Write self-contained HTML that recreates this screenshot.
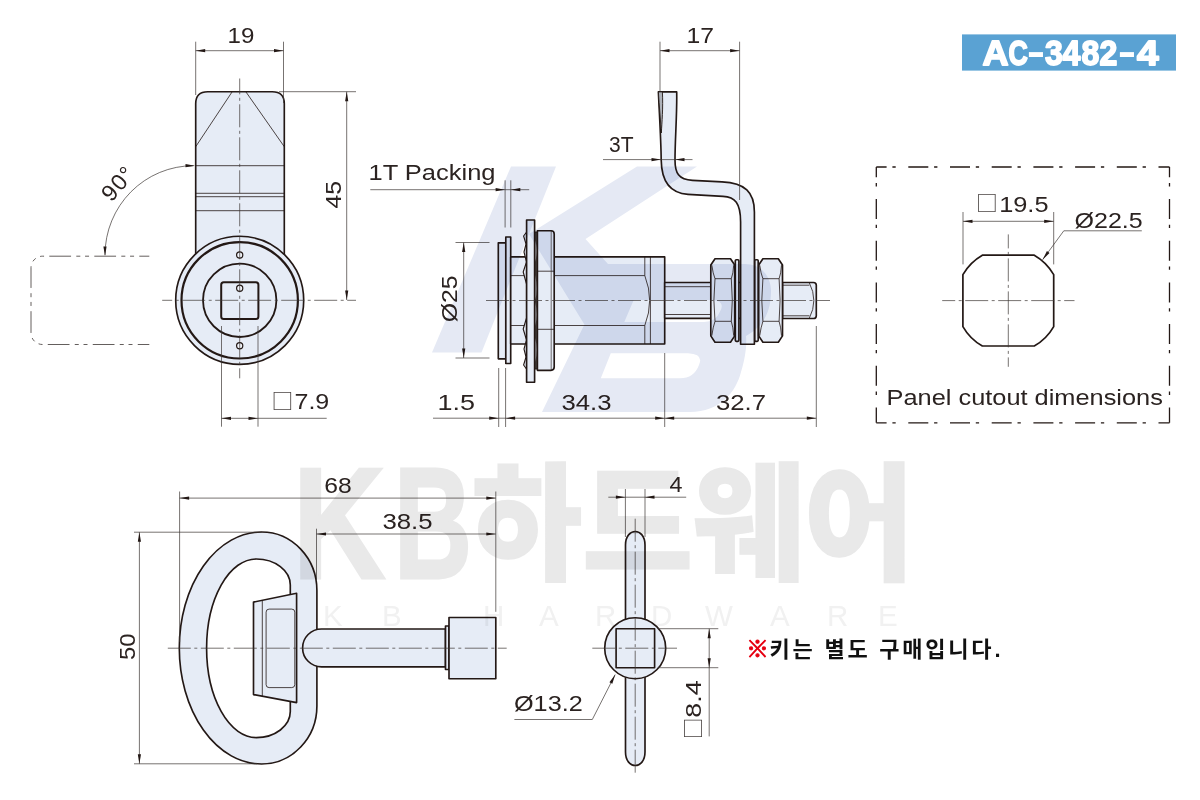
<!DOCTYPE html>
<html lang="ko"><head><meta charset="utf-8"><title>AC-3482-4</title>
<style>
html,body{margin:0;padding:0;background:#fff;}
body{width:1200px;height:800px;overflow:hidden;position:relative;font-family:"Liberation Sans","Noto Sans CJK KR",sans-serif;}
svg{position:absolute;left:0;top:0;display:block}
svg text{font-family:"Liberation Sans","Noto Sans CJK KR",sans-serif;fill:#2b2321;}
.o{fill:#e6ecf6;stroke:#231815;stroke-width:1.65;stroke-linejoin:round;stroke-linecap:round}
.on{fill:none;stroke:#231815;stroke-width:1.65;stroke-linejoin:round;stroke-linecap:round}
.ob{fill:#e6ecf6;stroke:#231815;stroke-width:2;stroke-linejoin:round}
.obn{fill:none;stroke:#231815;stroke-width:2;stroke-linejoin:round}
.m{fill:none;stroke:#231815;stroke-width:0.8}
.t{fill:none;stroke:#3c3634;stroke-width:0.7}
.c{fill:none;stroke:#3c3634;stroke-width:0.7;stroke-dasharray:23 3.5 3 3.5}
.p{fill:none;stroke:#3c3634;stroke-width:0.8;stroke-dasharray:21.75 5.25 4 4.75 4 5.25;stroke-dashoffset:11.75}
.d{fill:none;stroke:#231815;stroke-width:1.3;stroke-dasharray:20 5.8 3.3 12.6;stroke-dashoffset:9.7}
.ah{fill:#231815;stroke:none}
.wm{fill:#e5e9f4;stroke:none}
</style></head>
<body>
<svg width="1200" height="800" viewBox="0 0 1200 800">
<path class="o" d="M195.7,300 V103.7 C195.7,96 200,91.7 207.7,91.7 H272.3 C280,91.7 284.3,96 284.3,103.7 V300 Z"/>
<line x1="232.00" y1="92.00" x2="195.70" y2="146.70" class="m" />
<line x1="246.00" y1="92.00" x2="284.30" y2="146.70" class="m" />
<line x1="195.70" y1="165.70" x2="284.30" y2="165.70" class="m" />
<line x1="195.70" y1="193.30" x2="284.30" y2="193.30" class="m" />
<line x1="195.70" y1="196.70" x2="284.30" y2="196.70" class="m" />
<line x1="195.70" y1="210.70" x2="284.30" y2="210.70" class="m" />
<circle class="o" cx="239.7" cy="300.3" r="64"/>
<circle class="obn" cx="239.7" cy="300.3" r="58.2" style="stroke-width:2.2"/>
<circle class="on" cx="239.7" cy="300.3" r="36.7" style="stroke-width:1.8"/>
<rect class="on" x="221.2" y="282.3" width="37.2" height="36.8" rx="2.5" style="stroke-width:2"/>
<circle cx="239.7" cy="255" r="3.1" style="stroke:#231815;stroke-width:1.2;fill:#f1f4fa"/>
<circle cx="239.7" cy="288.3" r="3.1" style="stroke:#231815;stroke-width:1.2;fill:#f1f4fa"/>
<circle cx="239.7" cy="345.7" r="3.1" style="stroke:#231815;stroke-width:1.2;fill:#f1f4fa"/>
<line x1="239.70" y1="78.50" x2="239.70" y2="378.30" class="c" stroke-dashoffset="7.2"/>
<line x1="162.20" y1="300.30" x2="356.00" y2="300.30" class="c" stroke-dashoffset="13"/>
<line x1="195.70" y1="41.70" x2="195.70" y2="95.00" class="t" />
<line x1="283.50" y1="41.70" x2="283.50" y2="103.00" class="t" />
<line x1="195.70" y1="50.70" x2="283.50" y2="50.70" class="t" />
<polygon class="ah" points="195.70,50.70 205.20,49.10 205.20,52.30"/>
<polygon class="ah" points="283.50,50.70 274.00,52.30 274.00,49.10"/>
<text x="227.50" y="43.30" font-size="22.8" textLength="26.80" lengthAdjust="spacingAndGlyphs" >19</text>
<line x1="279.00" y1="91.70" x2="356.00" y2="91.70" class="t" />
<line x1="346.70" y1="91.70" x2="346.70" y2="300.00" class="t" />
<polygon class="ah" points="346.70,91.70 348.30,101.20 345.10,101.20"/>
<polygon class="ah" points="346.70,300.00 345.10,290.50 348.30,290.50"/>
<text x="-14.00" y="0.00" font-size="22.8" textLength="27.60" lengthAdjust="spacingAndGlyphs" transform="translate(340.7 194.5) rotate(-90)">45</text>
<path class="t" d="M193.5,165.7 A88.5,89.3 0 0 0 105,255"/>
<polygon class="ah" points="195.00,165.70 185.50,167.30 185.50,164.10"/>
<polygon class="ah" points="105.00,256.00 103.40,246.50 106.60,246.50"/>
<text font-size="23" text-anchor="middle" letter-spacing="1" transform="translate(124 188.5) rotate(-49)">90°</text>
<path class="p" d="M149.3,256.2 H42.5 A11.5,11.5 0 0 0 31,267.7 V333 A11.5,11.5 0 0 0 42.5,344.5 H149.3"/>
<line x1="221.50" y1="326.00" x2="221.50" y2="426.70" class="t" />
<line x1="258.00" y1="326.00" x2="258.00" y2="426.70" class="t" />
<line x1="221.50" y1="418.30" x2="326.70" y2="418.30" class="t" />
<polygon class="ah" points="221.50,418.30 231.00,416.70 231.00,419.90"/>
<polygon class="ah" points="258.00,418.30 248.50,419.90 248.50,416.70"/>
<text y="409.20" font-size="22.8"><tspan x="271.40" dy="-0.6" font-size="21.8" style="font-family:'Noto Sans CJK KR',sans-serif;fill:#4a4442">□</tspan><tspan x="294.50" dy="0.6" textLength="34.80" lengthAdjust="spacingAndGlyphs">7.9</tspan></text>
<rect class="o" x="498.3" y="242.8" width="7.5" height="116"/>
<rect class="o" x="505.8" y="237" width="4.9" height="126.5"/>
<rect class="o" x="510.7" y="256.9" width="154" height="87.1"/>
<line x1="510.70" y1="275.60" x2="644.80" y2="275.60" class="m" />
<line x1="510.70" y1="325.50" x2="644.80" y2="325.50" class="m" />
<path class="m" d="M644.8,256.9 V275.6 Q654.5,300.5 644.8,325.5 V344"/>
<line x1="650.40" y1="256.90" x2="650.40" y2="344.00" class="m" />
<path class="o" style="stroke-width:1.1" d="M527,231.5 L523.6,236 L526,244 L524,252 L526.5,262 L523.2,272 L526.5,284 V318 L523.2,329 L526.5,340 L524,349 L526,357 L523.6,365 L527,369.8 Z"/>
<path style="fill:#4a4442;stroke:#231815;stroke-width:0.9" d="M534.6,232 H537.5 V369 H534.6 Z"/>
<path style="fill:#e6ecf6;stroke:none" d="M535.4,240 Q537.6,250 535.4,262 Z M535.4,275 Q537.6,290 535.4,300 Z M535.4,302 Q537.6,315 535.4,326 Z M535.4,338 Q537.6,350 535.4,362 Z"/>
<rect class="o" x="526.6" y="220" width="8" height="162.2"/>
<path class="o" d="M537.4,230.7 H551 Q554.2,230.7 554.2,234 V367 Q554.2,370.3 551,370.3 H537.4 Z"/>
<line x1="537.40" y1="271.20" x2="554.20" y2="271.20" class="m" />
<line x1="537.40" y1="329.30" x2="554.20" y2="329.30" class="m" />
<path class="m" d="M551.2,230.7 V370.3" style="stroke-width:0.6"/>
<rect class="o" x="664.7" y="282.5" width="118" height="35.8"/>
<line x1="664.70" y1="286.70" x2="711.00" y2="286.70" class="m" />
<line x1="664.70" y1="314.50" x2="711.00" y2="314.50" class="m" />
<path class="o" d="M782.5,282.5 H813.5 Q816.3,282.5 816.3,285.3 V315.7 Q816.3,318.5 813.5,318.5 H782.5 Z"/>
<path class="m" d="M782.5,285.2 H809.4 M782.5,315.8 H809.4 M809.2,282.5 Q818.5,300.5 809.2,318.5"/>
<path class="o" d="M658.4,91.9 H676.7 C677.2,112 675,140 675,160 C675,173 678.5,179.8 692.5,180.4 L722,181.9 C745,183 754.4,192 754.4,212 V344.2 H740.6 V222 C740.6,203 735,197 723,196.4 L688,194.4 C670,193.2 661.5,182 661.2,160 C661,140 659.4,115 658.4,91.9 Z"/>
<path d="M658.4,91.9 H662.4 C663.2,108 662,122 661.3,133 C660.6,120 659.2,106 658.4,91.9 Z" fill="#aeb2ba" stroke="#231815" stroke-width="0.9" stroke-linejoin="round"/>
<rect class="o" x="735.3" y="259.7" width="3.6" height="81.6" rx="1"/>
<rect class="o" x="754.8" y="259.7" width="3.4" height="81.6" rx="1"/>
<path class="o" d="M715.0,258.7 H730.5 L734.7,265.0 V335.9 L730.5,342.2 H715.0 L710.8,335.9 V265.0 Z"/>
<path class="m" d="M711.8,265.2 Q713.0,273.7 715.0,278.7 H731.3 Q733.2,273.7 733.7,265.2 M711.8,335.7 Q713.0,327.2 715.0,321.3 H731.3 Q733.2,327.2 733.7,335.7 M715.0,278.7 Q712.8,300.5 715.0,321.3 M731.3,278.7 Q733.3,300.5 731.3,321.3"/>
<path class="o" d="M762.9,258.7 H778.3 L782.5,265.0 V335.9 L778.3,342.2 H762.9 L758.7,335.9 V265.0 Z"/>
<path class="m" d="M759.7,265.2 Q760.9,273.7 762.9,278.7 H779.1 Q781.0,273.7 781.5,265.2 M759.7,335.7 Q760.9,327.2 762.9,321.3 H779.1 Q781.0,327.2 781.5,335.7 M762.9,278.7 Q760.7,300.5 762.9,321.3 M779.1,278.7 Q781.1,300.5 779.1,321.3"/>
<line x1="486.00" y1="300.50" x2="830.00" y2="300.50" class="c" />
<line x1="660.00" y1="41.70" x2="660.00" y2="91.70" class="t" />
<line x1="739.60" y1="41.70" x2="739.60" y2="200.00" class="t" />
<line x1="660.00" y1="50.70" x2="739.60" y2="50.70" class="t" />
<polygon class="ah" points="660.00,50.70 669.50,49.10 669.50,52.30"/>
<polygon class="ah" points="739.60,50.70 730.10,52.30 730.10,49.10"/>
<text x="686.50" y="43.00" font-size="22.8" textLength="27.50" lengthAdjust="spacingAndGlyphs" >17</text>
<line x1="603.00" y1="159.60" x2="692.50" y2="159.60" class="t" />
<polygon class="ah" points="661.00,159.60 651.50,161.20 651.50,158.00"/>
<polygon class="ah" points="675.00,159.60 684.50,158.00 684.50,161.20"/>
<text x="609.00" y="152.00" font-size="22.8" textLength="24.50" lengthAdjust="spacingAndGlyphs" >3T</text>
<line x1="370.30" y1="189.70" x2="529.20" y2="189.70" class="t" />
<polygon class="ah" points="505.10,189.70 495.60,191.30 495.60,188.10"/>
<polygon class="ah" points="510.80,189.70 520.30,188.10 520.30,191.30"/>
<line x1="505.10" y1="180.30" x2="505.10" y2="227.50" class="t" />
<line x1="510.80" y1="180.30" x2="510.80" y2="227.50" class="t" />
<text x="368.50" y="180.00" font-size="22.8" textLength="127.00" lengthAdjust="spacingAndGlyphs" >1T Packing</text>
<line x1="455.50" y1="242.50" x2="489.50" y2="242.50" class="t" />
<line x1="455.50" y1="358.00" x2="489.50" y2="358.00" class="t" />
<line x1="463.70" y1="242.50" x2="463.70" y2="358.00" class="t" />
<polygon class="ah" points="463.70,242.50 465.30,252.00 462.10,252.00"/>
<polygon class="ah" points="463.70,358.00 462.10,348.50 465.30,348.50"/>
<text x="-23.50" y="0.00" font-size="22.8" textLength="47.00" lengthAdjust="spacingAndGlyphs" transform="translate(456.8 298.8) rotate(-90)">Ø25</text>
<line x1="433.00" y1="418.20" x2="816.30" y2="418.20" class="t" />
<line x1="498.70" y1="368.00" x2="498.70" y2="427.00" class="t" />
<line x1="505.60" y1="368.00" x2="505.60" y2="427.00" class="t" />
<line x1="664.70" y1="353.00" x2="664.70" y2="427.00" class="t" />
<line x1="816.30" y1="326.00" x2="816.30" y2="427.00" class="t" />
<polygon class="ah" points="498.70,418.20 489.20,419.80 489.20,416.60"/>
<polygon class="ah" points="505.60,418.20 515.10,416.60 515.10,419.80"/>
<polygon class="ah" points="664.70,418.20 655.20,419.80 655.20,416.60"/>
<polygon class="ah" points="664.70,418.20 674.20,416.60 674.20,419.80"/>
<polygon class="ah" points="816.30,418.20 806.80,419.80 806.80,416.60"/>
<text x="437.50" y="410.40" font-size="22.8" textLength="37.50" lengthAdjust="spacingAndGlyphs" >1.5</text>
<text x="561.50" y="410.40" font-size="22.8" textLength="50.00" lengthAdjust="spacingAndGlyphs" >34.3</text>
<text x="716.00" y="410.40" font-size="22.8" textLength="50.00" lengthAdjust="spacingAndGlyphs" >32.7</text>
<line x1="876.30" y1="167.00" x2="1169.50" y2="167.00" class="d" />
<line x1="876.30" y1="167.00" x2="876.30" y2="422.80" class="d" />
<line x1="876.30" y1="422.80" x2="1169.50" y2="422.80" class="d" />
<line x1="1169.50" y1="167.00" x2="1169.50" y2="422.80" class="d" />
<path class="on" style="stroke-width:1.7" d="M982.34,255.20 H1034.26 A52.3,52.3 0 0 1 1053.70,274.64 V326.56 A52.3,52.3 0 0 1 1034.26,346.00 H982.34 A52.3,52.3 0 0 1 962.90,326.56 V274.64 A52.3,52.3 0 0 1 982.34,255.20 Z"/>
<line x1="942.20" y1="300.60" x2="1074.50" y2="300.60" class="c" stroke-dashoffset="10"/>
<line x1="1008.30" y1="234.40" x2="1008.30" y2="366.80" class="c" stroke-dashoffset="9"/>
<line x1="963.00" y1="212.00" x2="963.00" y2="264.40" class="t" />
<line x1="1053.70" y1="212.00" x2="1053.70" y2="264.40" class="t" />
<line x1="963.00" y1="221.30" x2="1053.70" y2="221.30" class="t" />
<polygon class="ah" points="963.00,221.30 972.50,219.70 972.50,222.90"/>
<polygon class="ah" points="1053.70,221.30 1044.20,222.90 1044.20,219.70"/>
<text y="211.50" font-size="22.8"><tspan x="976.10" dy="-0.6" font-size="21.8" style="font-family:'Noto Sans CJK KR',sans-serif;fill:#4a4442">□</tspan><tspan x="999.20" dy="0.6" textLength="49.30" lengthAdjust="spacingAndGlyphs">19.5</tspan></text>
<text x="1074.50" y="228.30" font-size="22.8" textLength="68.20" lengthAdjust="spacingAndGlyphs" >Ø22.5</text>
<path class="t" d="M1141.8,230.8 H1063.8 L1042.6,259.7"/>
<polygon class="ah" points="1042.60,259.70 1046.93,251.09 1049.51,252.99"/>
<text x="886.60" y="405.00" font-size="22.8" textLength="276.30" lengthAdjust="spacingAndGlyphs" >Panel cutout dimensions</text>
<path class="o" fill-rule="evenodd" d="M261.6,532 A55.3,58.5 0 0 1 316.9,590.5 V706 A55.3,58 0 0 1 261.6,764 A82.3,116 0 0 1 261.6,532 Z
M256.3,559 A49.7,89.3 0 0 0 256.3,737.6 A34,26 0 0 0 290.3,711.6 V585 A34,26 0 0 0 256.3,559 Z"/>
<path class="o" d="M253.5,602.1 L296.6,593.3 V702.6 L253.5,694.6 Z"/>
<path class="m" d="M262.3,600.3 V696.2"/>
<rect class="m" x="266.1" y="609.1" width="28.7" height="78.5" rx="3"/>
<path class="o" d="M445.5,629 H321.5 A18.9,18.9 0 0 0 321.5,666.8 H445.5 Z"/>
<rect class="o" x="445.5" y="626" width="3.5" height="43.5"/>
<rect class="o" x="449" y="617.5" width="46.8" height="61.2"/>
<line x1="167.80" y1="648.20" x2="506.70" y2="648.20" class="c" />
<line x1="179.60" y1="491.50" x2="179.60" y2="642.00" class="t" />
<line x1="495.80" y1="491.50" x2="495.80" y2="611.80" class="t" />
<line x1="179.60" y1="498.10" x2="495.80" y2="498.10" class="t" />
<polygon class="ah" points="179.60,498.10 189.10,496.50 189.10,499.70"/>
<polygon class="ah" points="495.80,498.10 486.30,499.70 486.30,496.50"/>
<text x="324.30" y="493.00" font-size="22.8" textLength="27.50" lengthAdjust="spacingAndGlyphs" >68</text>
<line x1="316.50" y1="528.70" x2="316.50" y2="581.00" class="t" />
<line x1="316.50" y1="534.00" x2="495.80" y2="534.00" class="t" />
<polygon class="ah" points="316.50,534.00 326.00,532.40 326.00,535.60"/>
<polygon class="ah" points="495.80,534.00 486.30,535.60 486.30,532.40"/>
<text x="382.40" y="528.80" font-size="22.8" textLength="50.20" lengthAdjust="spacingAndGlyphs" >38.5</text>
<line x1="134.00" y1="532.20" x2="261.80" y2="532.20" class="t" />
<line x1="134.00" y1="763.80" x2="257.00" y2="763.80" class="t" />
<line x1="139.40" y1="532.20" x2="139.40" y2="763.80" class="t" />
<polygon class="ah" points="139.40,532.20 141.00,541.70 137.80,541.70"/>
<polygon class="ah" points="139.40,763.80 137.80,754.30 141.00,754.30"/>
<text x="-13.30" y="0.00" font-size="22.8" textLength="26.60" lengthAdjust="spacingAndGlyphs" transform="translate(134.8 646.8) rotate(-90)">50</text>
<path class="o" d="M625.5,545 C625.5,527 645,527 645,545 V752 C645,770 625.5,770 625.5,752 Z"/>
<circle class="o" cx="635.2" cy="648.2" r="30.5"/>
<rect class="on" x="616.1" y="628.7" width="38.5" height="39"/>
<line x1="635.20" y1="518.70" x2="635.20" y2="773.00" class="c" />
<line x1="592.30" y1="648.20" x2="677.00" y2="648.20" class="c" />
<line x1="625.40" y1="489.00" x2="625.40" y2="537.00" class="t" />
<line x1="645.00" y1="489.00" x2="645.00" y2="537.00" class="t" />
<line x1="608.30" y1="497.20" x2="686.20" y2="497.20" class="t" />
<polygon class="ah" points="625.40,497.20 615.90,498.80 615.90,495.60"/>
<polygon class="ah" points="645.00,497.20 654.50,495.60 654.50,498.80"/>
<text x="669.50" y="492.20" font-size="22.8" textLength="13.00" lengthAdjust="spacingAndGlyphs" >4</text>
<line x1="657.80" y1="628.70" x2="718.30" y2="628.70" class="t" />
<line x1="657.80" y1="667.70" x2="718.30" y2="667.70" class="t" />
<line x1="709.20" y1="628.70" x2="709.20" y2="736.40" class="t" />
<polygon class="ah" points="709.20,628.70 710.80,638.20 707.60,638.20"/>
<polygon class="ah" points="709.20,667.70 707.60,658.20 710.80,658.20"/>
<g transform="translate(701.2 737.4) rotate(-90)">
<text y="0.00" font-size="22.8"><tspan x="-1.90" dy="-0.6" font-size="21.8" style="font-family:'Noto Sans CJK KR',sans-serif;fill:#4a4442">□</tspan><tspan x="19.70" dy="0.6" textLength="37.30" lengthAdjust="spacingAndGlyphs">8.4</tspan></text>
</g>
<text x="514.00" y="711.00" font-size="22.8" textLength="68.70" lengthAdjust="spacingAndGlyphs" >Ø13.2</text>
<path class="t" d="M514.4,719.5 H592.3 L615.2,674.6"/>
<polygon class="ah" points="615.20,674.60 612.31,683.79 609.46,682.34"/>
<text x="746.3" y="656.7" font-size="22.5" style="fill:#e60012;stroke:#e60012;stroke-width:0.9;font-weight:900">※</text>
<text x="769.5" y="657.3" font-size="22" font-weight="bold" textLength="231" lengthAdjust="spacing" style="fill:#111">키는 별도 구매입니다.</text>
<rect x="962" y="34.4" width="214" height="36.2" fill="#5aa2d3"/>
<text transform="scale(0.9 1)" y="65" font-size="35.6" font-weight="bold" style="fill:#fff;stroke:#fff;stroke-width:1.8;stroke-linejoin:round"><tspan x="1091.7" textLength="29" lengthAdjust="spacingAndGlyphs">A</tspan><tspan x="1120.6" textLength="21.5" lengthAdjust="spacingAndGlyphs">C</tspan><tspan x="1140.9" font-size="40" textLength="20.5" lengthAdjust="spacingAndGlyphs" style="stroke-width:0">-</tspan><tspan x="1161.1 1180.6 1201.7 1221.7">3482</tspan><tspan x="1242.0" font-size="40" textLength="20.5" lengthAdjust="spacingAndGlyphs" style="stroke-width:0">-</tspan><tspan x="1263.3" textLength="24" lengthAdjust="spacingAndGlyphs">4</tspan></text>
<g style="mix-blend-mode:multiply">
<text y="577.5" style="fill:#e9e9e9;stroke:#e9e9e9;stroke-width:3;font-weight:bold"><tspan x="293" font-size="157" textLength="92" lengthAdjust="spacingAndGlyphs">K</tspan><tspan x="394" font-size="157" textLength="78" lengthAdjust="spacingAndGlyphs">B</tspan><tspan x="471.5" font-size="127.5" font-weight="900" style="stroke-width:1.5" textLength="443" lengthAdjust="spacingAndGlyphs" dy="-7.6">하드웨어</tspan></text>
<text x="323 382 440 483 539 595 651 705 770 827 878" y="625.7" font-size="29.5" style="fill:#f1f1f1">KB HARDWARE</text>
<path class="wm" d="M511,166.4 H556 L481.5,352.5 H432 Z"/>
<path class="wm" fill-rule="evenodd" d="M637,166.4 H697 L585.5,239 L608,264 H745 C760,264 771,275 771,291 C771,308 766,320 757,328 C753,332 749,334 746,336 C747,345 745,360 741,372 C736,392 720,412 690,412 H542 L584.4,324.6 L529,234 Z
M633.7,300 H712 Q726,301 720,311.5 Q716,322 704,322 H624.3 Z
M610.8,353.3 H688 Q704,354 699,365 Q694,378.3 680,378.3 H600.8 Z"/>
</g>
</svg>
</body></html>
